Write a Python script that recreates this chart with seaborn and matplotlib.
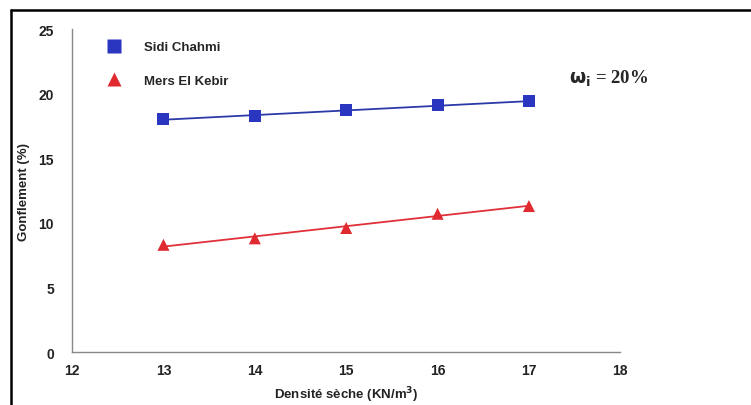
import matplotlib
matplotlib.use("Agg")
import matplotlib.pyplot as plt
import seaborn as sns
import pandas as pd
from matplotlib.lines import Line2D

# Data
densite = [13, 14, 15, 16, 17]
sidi_chahmi = [18.0, 18.3, 18.7, 19.1, 19.4]
mers_el_kebir = [8.3, 8.8, 9.6, 10.7, 11.3]
series_names = ["Sidi Chahmi", "Mers El Kebir"]
x_ticks = [12, 13, 14, 15, 16, 17, 18]
y_ticks = [0, 5, 10, 15, 20, 25]

colors = {"Sidi Chahmi": "#2a35c0", "Mers El Kebir": "#e02a30"}
line_colors = {"Sidi Chahmi": "#2c3aa8", "Mers El Kebir": "#e0303a"}
markers = {"Sidi Chahmi": "s", "Mers El Kebir": "^"}

sns.set_style("white")
plt.rcParams['font.family'] = ['Liberation Sans', 'DejaVu Sans']
plt.rcParams['font.weight'] = 'bold'

df = pd.DataFrame({
    "x": densite * 2,
    "y": sidi_chahmi + mers_el_kebir,
    "serie": [series_names[0]] * len(densite) + [series_names[1]] * len(densite),
})

fig = plt.figure(figsize=(7.51, 4.06), dpi=100)
ax = fig.add_axes([0.096, 0.1305, 0.73, 0.7955])

# Linear trend lines
for name in series_names:
    sub = df[df["serie"] == name]
    sns.regplot(data=sub, x="x", y="y", ax=ax, scatter=False, ci=None,
                color=line_colors[name], line_kws={"lw": 1.3})

# Data points
sns.scatterplot(data=df, x="x", y="y", hue="serie", style="serie",
                palette=colors, markers=markers, s=75, edgecolor="none",
                ax=ax, zorder=3)

ax.set_xlim(12, 18)
ax.set_ylim(0, 25)
ax.set_xticks(x_ticks)
ax.set_yticks(y_ticks)
ax.tick_params(direction="in", length=3, width=0.8, color="#888888",
               labelsize=10)
ax.tick_params(axis="y", pad=13)
ax.tick_params(axis="x", pad=8)
for lab in ax.get_xticklabels() + ax.get_yticklabels():
    lab.set_fontweight("bold")
    lab.set_color("#222222")

sns.despine(ax=ax)
for side in ["left", "bottom"]:
    ax.spines[side].set_color("#888888")
    ax.spines[side].set_linewidth(1.0)

ax.set_xlabel("Densité sèche (KN/m$^\\mathbf{3}$)", fontsize=9.5,
              fontweight="bold", labelpad=5, color="#222222")
ax.set_ylabel("Gonflement (%)", fontsize=9.5, fontweight="bold",
              labelpad=6, color="#222222")

leg = ax.legend(loc="upper left", bbox_to_anchor=(0.03, 1.0), frameon=False,
                fontsize=9.5, labelspacing=1.6, handletextpad=1.3,
                markerscale=1.1)
for t in leg.get_texts():
    t.set_fontweight("bold")

fig.text(0.758, 0.805, r"$\mathbf{\omega_i}$ = 20%", fontsize=13.5,
         fontweight="bold", family=["Liberation Serif", "DejaVu Serif"],
         ha="left", va="center")

# Black frame on top and left like the scanned figure
fig.add_artist(Line2D([0.0146, 1.0], [0.9717, 0.9717], color="black",
                      lw=1.8, transform=fig.transFigure))
fig.add_artist(Line2D([0.0146, 0.0146], [0.0, 0.9717], color="black",
                      lw=1.8, transform=fig.transFigure))

fig.savefig("out.png", dpi=100)
